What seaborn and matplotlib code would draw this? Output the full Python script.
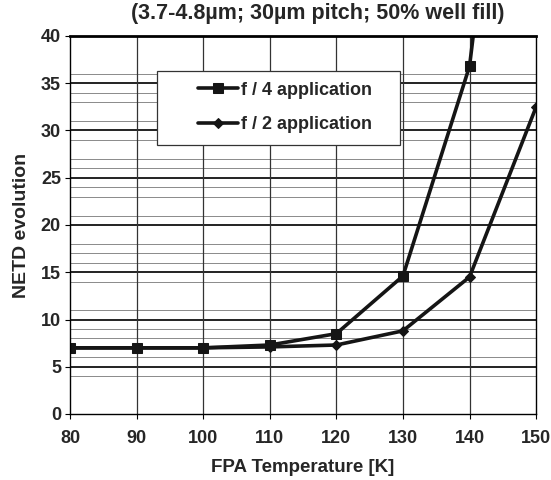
import numpy as np
import pandas as pd
import seaborn as sns
import matplotlib.pyplot as plt
from matplotlib.patches import Rectangle

temps = [80, 90, 100, 110, 120, 130, 140, 150]
netd_f4 = [7.0, 7.0, 7.0, 7.3, 8.5, 14.6, 36.8, 95.0]
netd_f2 = [7.0, 7.0, 7.0, 7.1, 7.3, 8.8, 14.5, 32.5]
series_names = ['f / 4 application', 'f / 2 application']
y_ticks = [0, 5, 10, 15, 20, 25, 30, 35, 40]
x_ticks = [80, 90, 100, 110, 120, 130, 140, 150]
minor_y = [4, 6, 8, 9, 11, 14, 16, 17, 18, 21, 23, 24, 26, 27, 29, 31, 33, 34, 36]

df = pd.DataFrame({
    'T': temps * 2,
    'NETD': netd_f4 + netd_f2,
    'series': [series_names[0]] * len(temps) + [series_names[1]] * len(temps),
})

sns.set_theme(style='white')
plt.rcParams['font.family'] = ['Liberation Sans', 'DejaVu Sans']
plt.rcParams['font.weight'] = 'bold'

fig = plt.figure(figsize=(5.51, 4.8), dpi=100)
ax = fig.add_axes([0.127, 0.1375, 0.846, 0.7875])

sns.lineplot(data=df, x='T', y='NETD', hue='series', style='series',
             palette=['#151515', '#151515'], markers=['s', 'D'],
             dashes=False, linewidth=2.6, ax=ax)
sizes = [6.5, 5]
for ln, ms in zip(ax.lines[:2], sizes):
    ln.set_markersize(ms)
    ln.set_markeredgecolor('#151515')

for v in minor_y:
    ax.axhline(v, color='#8a8a8a', lw=0.7, zorder=0)
for v in y_ticks[1:-1]:
    ax.axhline(v, color='#222222', lw=1.4, zorder=0)
for v in x_ticks[1:-1]:
    ax.axvline(v, color='#333333', lw=0.9, zorder=0)

ax.set_xlim(80, 150)
ax.set_ylim(0, 40)
ax.set_xticks(x_ticks)
ax.set_yticks(y_ticks)
ax.tick_params(axis='both', labelsize=13, length=3.5, width=0.8, color='black',
               direction='out', bottom=True, left=True, pad=3)
ax.tick_params(axis='x', pad=8)
for lab in ax.get_xticklabels() + ax.get_yticklabels():
    lab.set_fontweight('bold')
for s in ax.spines.values():
    s.set_color('black')
    s.set_linewidth(1.0)
ax.spines['top'].set_linewidth(2.0)

ax.set_xlabel('FPA Temperature [K]', fontsize=13.5, fontweight='bold', labelpad=9)
ax.set_ylabel('NETD evolution', fontsize=14, fontweight='bold', labelpad=8)

# legend frame drawn separately (wide left padding in the original)
ax.add_patch(Rectangle((0.187, 0.712), 0.521, 0.195, transform=ax.transAxes,
                       facecolor='white', edgecolor='#333333', lw=0.9, zorder=4))
leg = ax.legend(loc='upper left', bbox_to_anchor=(0.275, 0.879), fontsize=13,
                frameon=False, handlelength=2.2, borderpad=0, borderaxespad=0,
                labelspacing=0.98, handletextpad=0.15)
leg.set_zorder(5)
for t in leg.get_texts():
    t.set_fontweight('bold')
for h, ms in zip(leg.legend_handles, sizes):
    h.set_markersize(ms)
    h.set_markeredgecolor('#151515')

fig.text(0.577, 0.972, '(3.7-4.8µm; 30µm pitch; 50% well fill)',
         ha='center', va='center', fontsize=15.5, fontweight='bold')

fig.savefig('out.png', dpi=100)
